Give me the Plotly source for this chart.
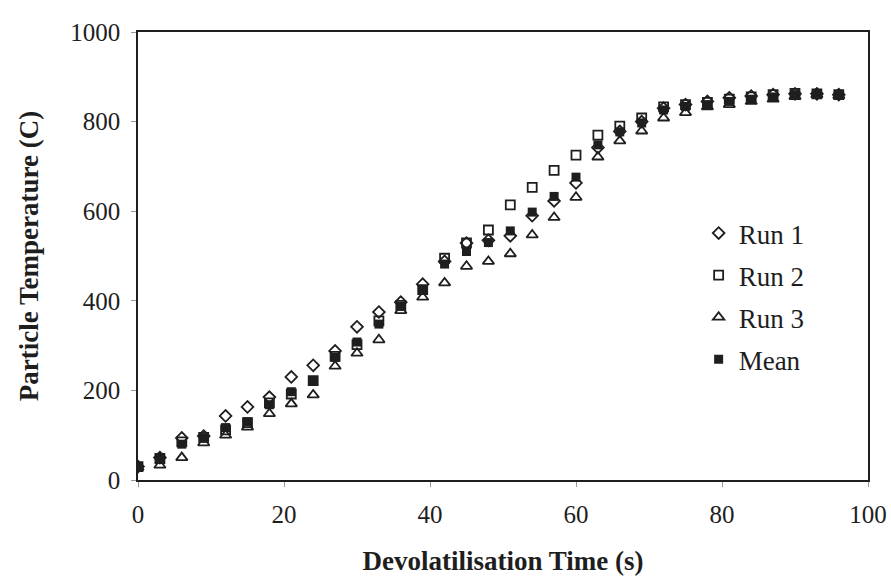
import plotly.graph_objects as go

time_s = [0, 3, 6, 9, 12, 15, 18, 21, 24, 27, 30, 33, 36, 39, 42, 45, 48, 51, 54, 57,
          60, 63, 66, 69, 72, 75, 78, 81, 84, 87, 90, 93, 96]

run1 = [30, 50, 94, 98, 143, 163, 185, 230, 256, 288, 342, 375, 397, 437, 488, 529, 535, 545, 590, 623,
        663, 742, 778, 800, 830, 838, 845, 853, 857, 860, 862, 862, 860]
run2 = [30, 48, 85, 95, 112, 128, 172, 192, 222, 276, 302, 355, 390, 425, 495, 529, 558, 614, 653, 691,
        725, 770, 790, 808, 833, 838, 843, 850, 855, 860, 863, 862, 860]
run3 = [28, 33, 50, 83, 100, 118, 148, 170, 190, 254, 283, 313, 378, 408, 440, 477, 488, 505, 547, 586,
        631, 721, 757, 779, 808, 820, 833, 838, 845, 850, 856, 860, 858]
mean = [28, 47, 80, 94, 117, 130, 168, 197, 220, 274, 308, 348, 388, 423, 482, 510, 530, 556, 598, 633,
        676, 748, 777, 797, 826, 834, 838, 845, 850, 855, 860, 861, 860]

ink = "#1e1e1e"
font_family = "Liberation Serif, Times New Roman, serif"

fig = go.Figure()
series = [
    ("Run 1", run1, dict(symbol="diamond-open", size=9, color=ink, line=dict(width=1.8, color=ink))),
    ("Run 2", run2, dict(symbol="square-open", size=9, color=ink, line=dict(width=1.8, color=ink))),
    ("Run 3", run3, dict(symbol="triangle-up-open", size=10, color=ink, line=dict(width=1.8, color=ink))),
    ("Mean", mean, dict(symbol="square", size=9, color=ink, line=dict(width=0, color=ink))),
]
for name, vals, mk in series:
    fig.add_trace(go.Scatter(x=time_s, y=vals, mode="markers", name=name,
                             legendgroup=name, marker=mk))

fig.update_layout(
    width=891, height=576,
    margin=dict(l=138, r=23, t=32, b=96, autoexpand=False),
    paper_bgcolor="white", plot_bgcolor="white",
    font=dict(family=font_family, size=25, color=ink),
    showlegend=True,
    legend=dict(x=0.768, y=0.605, xanchor="left", yanchor="top",
                font=dict(family=font_family, size=27, color=ink),
                bgcolor="rgba(0,0,0,0)", tracegroupgap=4, itemsizing="trace"),
    xaxis=dict(range=[0, 100], tickvals=[0, 20, 40, 60, 80, 100], automargin=False,
               showgrid=False, zeroline=False, showline=True, linecolor=ink, linewidth=1.5,
               mirror=True, ticks="outside", ticklen=5, tickcolor="#999999",
               ticklabelstandoff=6,
               tickfont=dict(family=font_family, size=25, color=ink),
               title=dict(text="<b>Devolatilisation Time (s)</b>", standoff=26,
                          font=dict(family=font_family, size=27, color=ink))),
    yaxis=dict(range=[0, 1000], tickvals=[0, 200, 400, 600, 800, 1000], automargin=False,
               showgrid=False, zeroline=False, showline=True, linecolor=ink, linewidth=1.5,
               mirror=True, ticks="outside", ticklen=5, tickcolor="#999999",
               ticklabelstandoff=6,
               tickfont=dict(family=font_family, size=25, color=ink),
               title=dict(text="<b>Particle Temperature (C)</b>", standoff=24,
                          font=dict(family=font_family, size=27, color=ink))),
)

fig.write_html("out.html")
